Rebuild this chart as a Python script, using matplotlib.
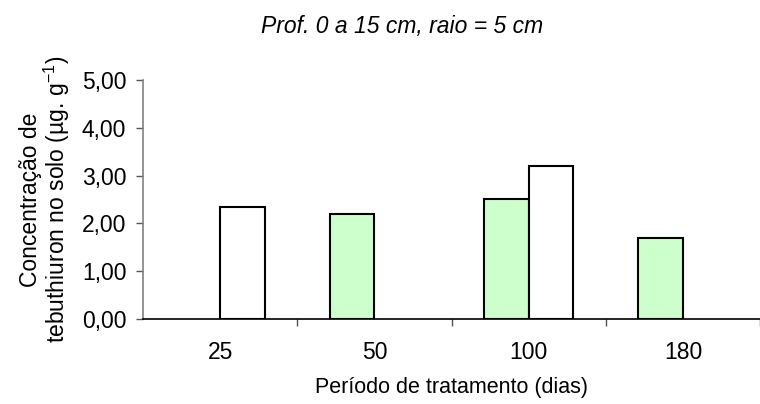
import numpy as np
import matplotlib
matplotlib.use("Agg")
import matplotlib.pyplot as plt

categories = ["25", "50", "100", "180"]
green_vals = [np.nan, 2.20, 2.52, 1.70]
white_vals = [2.34, np.nan, 3.21, np.nan]
yticks = [0, 1, 2, 3, 4, 5]

plt.rcParams['font.family'] = ['Liberation Sans', 'DejaVu Sans']

fig = plt.figure(figsize=(7.6, 4.04), dpi=100)
ax = fig.add_axes([143/760, 85/404, 1 - 143/760, (319-80)/404])

x = np.arange(len(categories))
w = 0.288
g = np.array(green_vals, dtype=float)
wv = np.array(white_vals, dtype=float)
mg = ~np.isnan(g)
mw = ~np.isnan(wv)
ax.bar(x[mg] - w/2, g[mg], width=w, color='#CCFFCC', edgecolor='black', linewidth=1.5, zorder=3)
ax.bar(x[mw] + w/2, wv[mw], width=w, color='white', edgecolor='black', linewidth=1.5, zorder=3)

ax.set_xlim(-0.5, 3.455)
ax.set_ylim(0, 5)
ax.set_yticks(yticks)
ax.set_yticklabels([f"{v:.2f}".replace('.', ',') for v in yticks], fontsize=16.5)
ax.set_xticks(x)
ax.set_xticklabels(categories, fontsize=16.5)
ax.set_xticks(np.arange(len(categories)) + 0.5, minor=True)
ax.tick_params(axis='x', which='major', length=0, pad=16)
ax.tick_params(axis='x', which='minor', length=5, width=1, color='#555555', direction='out')
ax.tick_params(axis='y', which='major', length=5, width=1, color='#555555', direction='out', pad=7)

for s in ['top', 'right']:
    ax.spines[s].set_visible(False)
ax.spines['left'].set_color('#808080')
ax.spines['left'].set_linewidth(1.2)
ax.spines['bottom'].set_color('black')
ax.spines['bottom'].set_linewidth(1.2)

ax.set_xlabel("Período de tratamento (dias)", fontsize=15.5, labelpad=9)
ax.set_ylabel("Concentração de\ntebuthiuron no solo (µg. g$^{\\mathregular{-1}}$)", fontsize=16.5,
              labelpad=7, linespacing=1.0)

fig.text(402/760, 1 - 26/404, "Prof. 0 a 15 cm, raio = 5 cm", fontsize=16.5, style='italic',
         ha='center', va='center')

fig.savefig("out.png", dpi=100)
